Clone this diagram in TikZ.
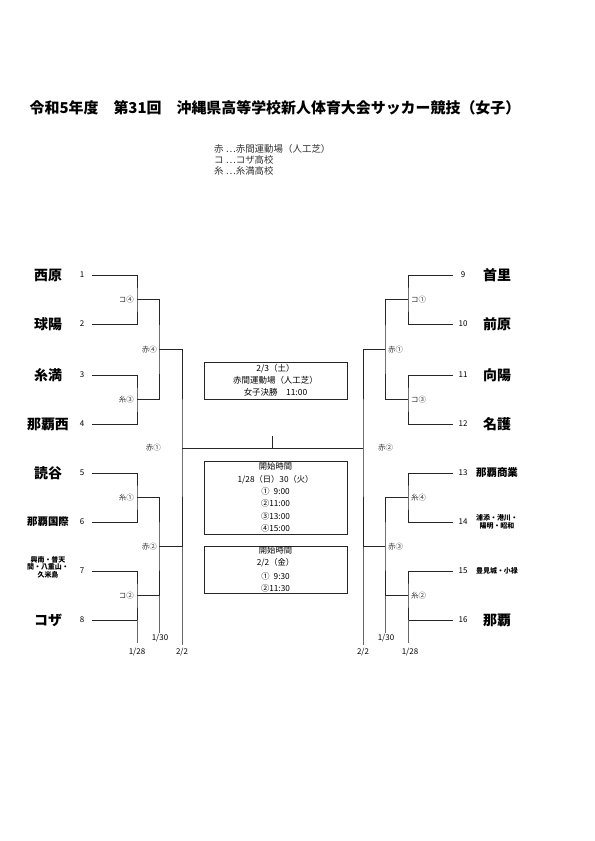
\documentclass[tikz,border=0pt]{standalone}
\usepackage{fontspec}
\setmainfont{Noto Sans CJK JP}
\begin{document}
\begin{tikzpicture}[x=1bp,y=-1bp,
  br/.style={line width=0.9bp, draw=black!85},
  ext/.style={line width=0.6bp, draw=black!60},
  big/.style={font=\bfseries\fontsize{14}{14}\selectfont, inner sep=0},
  mid/.style={font=\bfseries\fontsize{10.5}{10.5}\selectfont, inner sep=0},
  tiny/.style={font=\bfseries\fontsize{7}{7.6}\selectfont, align=center, inner sep=0},
  num/.style={font=\fontsize{8}{8}\selectfont, inner sep=0},
  rl/.style={font=\fontsize{7.5}{7.5}\selectfont, inner sep=0, text=black!80},
  dt/.style={font=\fontsize{8}{8}\selectfont, inner sep=0},
  leg/.style={font=\fontsize{9.5}{9.5}\selectfont, inner sep=0, anchor=west, text=black!80},
  boxn/.style={draw=black!85, line width=1bp, minimum width=143bp, align=center, inner sep=0}
]
\useasboundingbox (0,0) rectangle (595,841);
\fill[white] (0,0) rectangle (595,841);

% title
\node[font=\bfseries\fontsize{15}{15}\selectfont, inner sep=0] (title) at (275,108)
  {令和5年度\quad 第31回\quad 沖縄県高等学校新人体育大会サッカー競技（女子）};

% legend
\node[leg] (lg1) at (214,149) {赤 …赤間運動場（人工芝）};
\node[leg] (lg2) at (214,160) {コ …コザ高校};
\node[leg] (lg3) at (214,171) {糸 …糸満高校};

% team names left
\node[big] (t1) at (48,275) {西原};
\node[big] (t2) at (48,324) {球陽};
\node[big] (t3) at (48,375) {糸満};
\node[big] (t4) at (48,424) {那覇西};
\node[big] (t5) at (48,473) {読谷};
\node[mid] (t6) at (48,522) {那覇国際};
\node[tiny] (t7) at (48,567) {興南・普天\\間・八重山・\\久米島};
\node[big] (t8) at (48,620) {コザ};
% team names right
\node[big] (t9) at (497,275) {首里};
\node[big] (t10) at (497,324) {前原};
\node[big] (t11) at (497,375) {向陽};
\node[big] (t12) at (497,424) {名護};
\node[mid] (t13) at (497,473) {那覇商業};
\node[tiny] (t14) at (497,522) {浦添・港川・\\陽明・昭和};
\node[tiny] (t15) at (497,571) {豊見城・小禄};
\node[big] (t16) at (497,620) {那覇};

% numbers and line starts
\foreach \i/\y in {1/275,2/324,3/375,4/424,5/473,6/522,7/571,8/620}{
  \node[num] (n\i) at (82,\y) {\i};
  \coordinate (p\i) at (92,\y);
}
\foreach \i/\y in {9/275,10/324,11/375,12/424,13/473,14/522,15/571,16/620}{
  \node[num] (n\i) at (463,\y) {\i};
  \coordinate (p\i) at (453,\y);
}

% junctions
\coordinate (a1) at (137,299.5);
\coordinate (a2) at (137,399.5);
\coordinate (a3) at (137,497.5);
\coordinate (a4) at (137,595.5);
\coordinate (b1) at (159,349.5);
\coordinate (b2) at (159,546.5);
\coordinate (c1) at (182,448);
\coordinate (a5) at (408,299.5);
\coordinate (a6) at (408,399.5);
\coordinate (a7) at (408,497.5);
\coordinate (a8) at (408,595.5);
\coordinate (b3) at (385,349.5);
\coordinate (b4) at (385,546.5);
\coordinate (c2) at (363,448);

% left bracket
\draw[br] (p1) -| (a1) |- (p2);
\draw[br] (p3) -| (a2) |- (p4);
\draw[br] (p5) -| (a3) |- (p6);
\draw[br] (p7) -| (a4) |- (p8);
\draw[br] (a1) -| (b1) |- (a2);
\draw[br] (a3) -| (b2) |- (a4);
\draw[br] (b1) -| (c1) |- (b2);
% right bracket
\draw[br] (p9) -| (a5) |- (p10);
\draw[br] (p11) -| (a6) |- (p12);
\draw[br] (p13) -| (a7) |- (p14);
\draw[br] (p15) -| (a8) |- (p16);
\draw[br] (a5) -| (b3) |- (a6);
\draw[br] (a7) -| (b4) |- (a8);
\draw[br] (b3) -| (c2) |- (b4);
% final
\draw[br] (c1) -- (c2);
\coordinate (tk) at (272,436);
\draw[br] (tk) -- (tk |- c1);

% extensions
\draw[ext] (a4 |- p8) -- ++(0,23);
\draw[ext] (b2 |- a4) -- ++(0,37);
\draw[ext] (c1 |- b2) -- ++(0,98);
\draw[ext] (a8 |- p16) -- ++(0,23);
\draw[ext] (b4 |- a8) -- ++(0,37);
\draw[ext] (c2 |- b4) -- ++(0,98);

% dates
\node[dt] (d1) at (137,652) {1/28};
\node[dt] (d2) at (160,638) {1/30};
\node[dt] (d3) at (182,652) {2/2};
\node[dt] (d4) at (410,652) {1/28};
\node[dt] (d5) at (386,638) {1/30};
\node[dt] (d6) at (363,652) {2/2};

% round labels left
\node[rl, anchor=east] (r1) at (134,299.5) {コ④};
\node[rl, anchor=east] (r2) at (134,399.5) {糸③};
\node[rl, anchor=east] (r3) at (157,349.5) {赤④};
\node[rl, anchor=east] (r4) at (161,448) {赤①};
\node[rl, anchor=east] (r5) at (134,497.5) {糸①};
\node[rl, anchor=east] (r6) at (157,546.5) {赤②};
\node[rl, anchor=east] (r7) at (134,595.5) {コ②};
% round labels right
\node[rl, anchor=west] (r8) at (411,299.5) {コ①};
\node[rl, anchor=west] (r9) at (388,349.5) {赤①};
\node[rl, anchor=west] (r10) at (411,399.5) {コ③};
\node[rl, anchor=west] (r11) at (378,448) {赤②};
\node[rl, anchor=west] (r12) at (411,497.5) {糸④};
\node[rl, anchor=west] (r13) at (388,546.5) {赤③};
\node[rl, anchor=west] (r14) at (411,595.5) {糸②};

% center boxes
\node[boxn, minimum height=37bp, font=\fontsize{8.5}{12}\selectfont] (bx1) at (275.5,380.5)
  {2/3（土）\\赤間運動場（人工芝）\\女子決勝\quad 11:00};
\node[boxn, minimum height=73bp, font=\fontsize{8.3}{12.4}\selectfont] (bx2) at (275.5,497.5)
  {開始時間\\1/28（日）30（火）\\①\enspace 9:00\\②11:00\\③13:00\\④15:00};
\node[boxn, minimum height=47bp, font=\fontsize{8.3}{11.5}\selectfont] (bx3) at (275.5,569.5)
  {開始時間\\2/2（金）\\[3bp]①\enspace 9:30\\②11:30};
\end{tikzpicture}
\end{document}
